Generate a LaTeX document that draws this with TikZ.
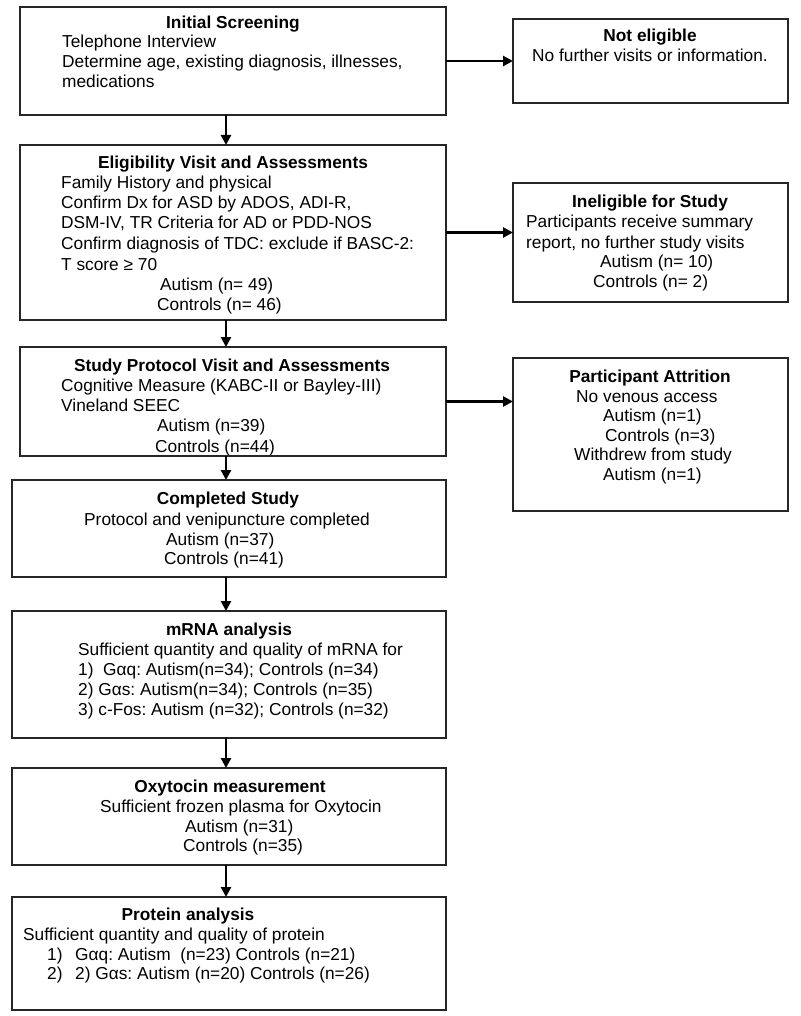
\documentclass[tikz,border=0pt]{standalone}
\usepackage{fontspec}
\setmainfont{Liberation Sans}
\usetikzlibrary{arrows.meta}
\frenchspacing
\begin{document}
\begin{tikzpicture}[x=1pt,y=-1pt,
  box/.style={draw=black!85,line width=1.1pt,anchor=north west,inner sep=0pt,outer sep=0pt},
  tx/.style={anchor=base west,inner sep=0pt,font=\fontsize{17.3}{20}\selectfont},
  ttl/.style={anchor=base,inner sep=0pt,font=\fontsize{17.3}{20}\selectfont\bfseries},
  arr/.style={line width=2.8pt,-{Triangle[length=10pt,width=10pt]}}]
\useasboundingbox[fill=white] (0,0) rectangle (800,1016);
\coordinate (ax) at (226,0);
% left column boxes
\node[box,minimum width=426pt,minimum height=108pt] (b1) at (20,7) {};
\node[box,minimum width=426pt,minimum height=175pt] (b2) at (20,145) {};
\node[box,minimum width=426pt,minimum height=109pt] (b3) at (20,347) {};
\node[box,minimum width=434pt,minimum height=97pt] (b4) at (12,480) {};
\node[box,minimum width=434pt,minimum height=127pt] (b5) at (12,611) {};
\node[box,minimum width=434pt,minimum height=97pt] (b6) at (12,768) {};
\node[box,minimum width=434pt,minimum height=113pt] (b7) at (12,897) {};
% right column boxes
\node[box,minimum width=275pt,minimum height=84pt] (ne) at (513,19) {};
\node[box,minimum width=275pt,minimum height=119pt] (ie) at (513,183) {};
\node[box,minimum width=275pt,minimum height=153pt] (pa) at (513,358) {};
% box 1
\node[ttl] (t1) at (233,29) {Initial Screening};
\node[tx] (t1a) at (62,48) {Telephone Interview};
\node[tx] (t1b) at (62,68) {Determine age, existing diagnosis, illnesses,};
\node[tx] (t1c) at (62,88) {medications};
% not eligible
\node[ttl] (tne) at (650,42) {Not eligible};
\node[tx] (tnea) at (532,62) {No further visits or information.};
% box 2
\node[ttl] (t2) at (233,169) {Eligibility Visit and Assessments};
\node[tx] (t2a) at (61,189) {Family History and physical};
\node[tx] (t2b) at (61,209) {Confirm Dx for ASD by ADOS, ADI-R,};
\node[tx] (t2c) at (61,229) {DSM-IV, TR Criteria for AD or PDD-NOS};
\node[tx] (t2d) at (61,249) {Confirm diagnosis of TDC: exclude if BASC-2:};
\node[tx] (t2e) at (61,270) {T score ≥ 70};
\node[tx] (t2f) at (160,290) {Autism (n= 49)};
\node[tx] (t2g) at (157,310) {Controls (n= 46)};
% ineligible
\node[ttl] (tie) at (650,208) {Ineligible for Study};
\node[tx] (tiea) at (526,228) {Participants receive summary};
\node[tx] (tieb) at (526,248) {report, no further study visits};
\node[tx] (tiec) at (600,267) {Autism (n= 10)};
\node[tx] (tied) at (593,287) {Controls (n= 2)};
% box 3 (text clipped by the box)
\begin{scope}
\clip (b3.north west) rectangle (b3.south east);
\node[ttl] (t3) at (232,371) {Study Protocol Visit and Assessments};
\node[tx] (t3a) at (61,391) {Cognitive Measure (KABC-II or Bayley-III)};
\node[tx] (t3b) at (61,411) {Vineland SEEC};
\node[tx] (t3c) at (157,431) {Autism (n=39)};
\node[tx] (t3d) at (155,452) {Controls (n=44)};
\end{scope}
\draw[draw=black!85,line width=1.1pt] (b3.north west) rectangle (b3.south east);
% attrition
\node[ttl] (tpa) at (650,382) {Participant Attrition};
\node[tx] (tpaa) at (576,402) {No venous access};
\node[tx] (tpab) at (603,421) {Autism (n=1)};
\node[tx] (tpac) at (605,441) {Controls (n=3)};
\node[tx] (tpad) at (574,460) {Withdrew from study};
\node[tx] (tpae) at (603,480) {Autism (n=1)};
% box 4
\node[ttl] (t4) at (228,504) {Completed Study};
\node[tx] (t4a) at (84,525) {Protocol and venipuncture completed};
\node[tx] (t4b) at (166,545) {Autism (n=37)};
\node[tx] (t4c) at (164,564) {Controls (n=41)};
% box 5
\node[ttl] (t5) at (229,635) {mRNA analysis};
\node[tx] (t5a) at (78,655) {Sufficient quantity and quality of mRNA for};
\node[tx] (t5b) at (78,675) {1)\ \ Gαq: Autism(n=34); Controls (n=34)};
\node[tx] (t5c) at (78,695) {2) Gαs: Autism(n=34); Controls (n=35)};
\node[tx] (t5d) at (78,715) {3) c-Fos: Autism (n=32); Controls (n=32)};
% box 6
\node[ttl] (t6) at (230,792) {Oxytocin measurement};
\node[tx] (t6a) at (100,812) {Sufficient frozen plasma for Oxytocin};
\node[tx] (t6b) at (185,832) {Autism (n=31)};
\node[tx] (t6c) at (183,851) {Controls (n=35)};
% box 7
\node[ttl] (t7) at (188,920) {Protein analysis};
\node[tx] (t7a) at (23,940) {Sufficient quantity and quality of protein};
\node[tx] (t7b) at (47,960) {1)};
\node[tx] (t7c) at (75,960) {Gαq: Autism\ \ (n=23) Controls (n=21)};
\node[tx] (t7d) at (47,979) {2)};
\node[tx] (t7e) at (75,979) {2) Gαs: Autism (n=20) Controls (n=26)};
% vertical arrows
\draw[arr] (b1.south -| ax) -- (b2.north -| ax);
\draw[arr] (b2.south -| ax) -- (b3.north -| ax);
\draw[arr] (b3.south -| ax) -- (b4.north -| ax);
\draw[arr] (b4.south -| ax) -- (b5.north -| ax);
\draw[arr] (b5.south -| ax) -- (b6.north -| ax);
\draw[arr] (b6.south -| ax) -- (b7.north -| ax);
% horizontal arrows
\draw[arr] (b1.east) -- (ne.west |- b1.east);
\draw[arr] (b2.east) -- (ie.west |- b2.east);
\draw[arr] (b3.east) -- (pa.west |- b3.east);
\end{tikzpicture}
\end{document}
